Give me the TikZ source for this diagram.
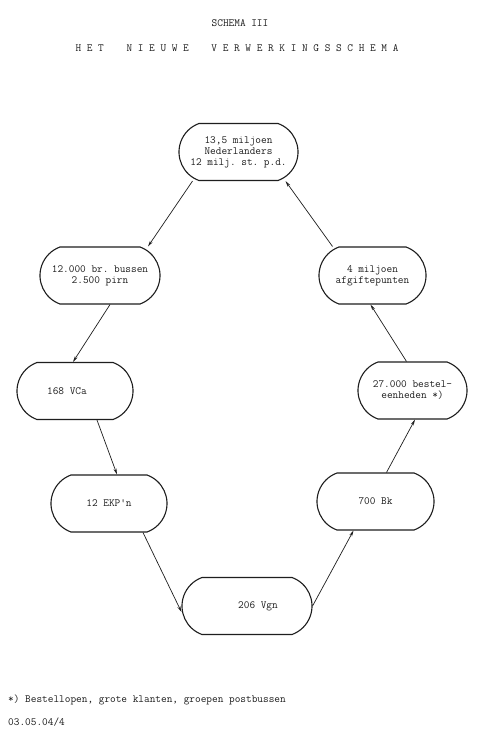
\documentclass[tikz,border=0pt]{standalone}
\usetikzlibrary{arrows.meta,shapes.misc}
\definecolor{ink}{HTML}{1E1E1E}
\newcommand{\typed}{\ttfamily\frenchspacing\fontsize{11}{11}\selectfont}
\tikzset{
  loopbox/.style={draw=ink, rounded rectangle, rounded rectangle arc length=140,
    line width=1.1pt, minimum height=57pt, align=center, font=\typed,
    text=ink, inner sep=2pt},
  arr/.style={-{Stealth[length=6pt, width=3pt]}, line width=0.7pt, draw=ink},
  plaintext/.style={font=\typed, text=ink, inner sep=0pt}
}

\begin{document}
\begin{tikzpicture}[x=1pt, y=-1pt]
    \useasboundingbox[fill=white] (0,0) rectangle (478,744);
    % titles
    \node[plaintext] (title) at (240,23) {SCHEMA III};
    \node[plaintext] (subtitle) at (237,48)
      {H~E~T~~~~N~I~E~U~W~E~~~~V~E~R~W~E~R~K~I~N~G~S~S~C~H~E~M~A};
    % the loop
    \node[loopbox, minimum width=123pt] (burgers) at (238.5,152)
      {13,5 miljoen\\Nederlanders\\12 milj. st. p.d.};
    \node[loopbox, minimum width=124pt] (bussen) at (100,275.5)
      {12.000 br. bussen\\2.500 pirn};
    \node[loopbox, minimum width=111pt] (afgifte) at (372.5,275.5)
      {4 miljoen\\afgiftepunten};
    \node[loopbox, minimum width=120pt] (vca) at (75,391)
      {168 VCa\hspace*{16pt}};
    \node[loopbox, minimum width=113pt] (bestel) at (412.5,390.5)
      {27.000 bestel-\\eenheden *)};
    \node[loopbox, minimum width=120pt] (ekp) at (109,503.5) {12 EKP'n};
    \node[loopbox, minimum width=121pt] (bk) at (375.5,501.5) {700 Bk};
    \node[loopbox, minimum width=134pt] (vgn) at (247,606)
      {\hspace*{22pt}206 Vgn};
    \draw[arr] ([xshift=-46]burgers.south) -- ([xshift=48]bussen.north);
    \draw[arr] ([xshift=10]bussen.south) -- ([xshift=-2]vca.north);
    \draw[arr] ([xshift=22]vca.south) -- ([xshift=8]ekp.north);
    \draw[arr] ([xshift=34]ekp.south) -- ([yshift=-6]vgn.west);
    \draw[arr] (vgn.east) -- ([xshift=-22]bk.south);
    \draw[arr] ([xshift=11]bk.north) -- ([xshift=2.5]bestel.south);
    \draw[arr] ([xshift=-6]bestel.north) -- ([xshift=-2]afgifte.south);
    \draw[arr] ([xshift=-40]afgifte.north) -- ([xshift=47]burgers.south);
    % footnote
    \node[plaintext, anchor=west] (voetnoot) at (8,700)
      {*) Bestellopen, grote klanten, groepen postbussen};
    \node[plaintext, anchor=west] (code) at (8,722) {03.05.04/4};
  \end{tikzpicture}
\end{document}
